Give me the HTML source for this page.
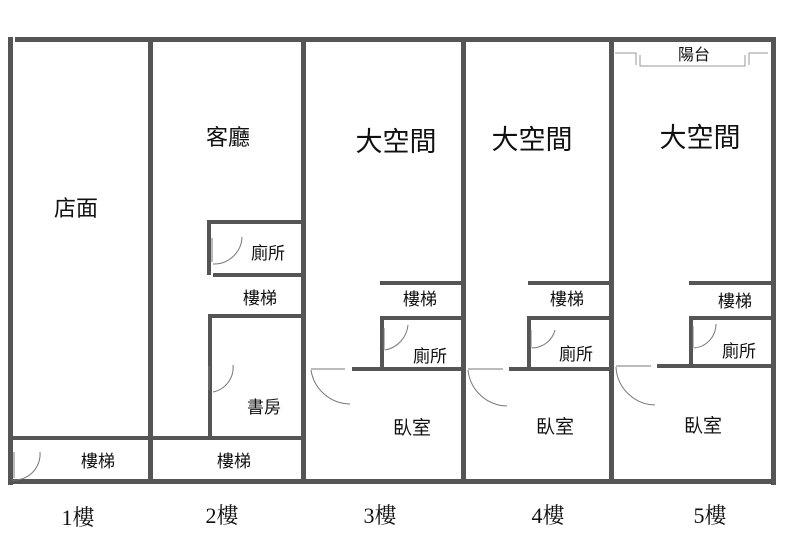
<!DOCTYPE html>
<html><head><meta charset="utf-8"><style>
html,body{margin:0;padding:0;background:#fff;}
svg{display:block}
.t{font-family:"Liberation Sans","Noto Sans CJK TC",sans-serif;fill:#111;text-anchor:middle}
.f{font-family:"Liberation Serif","Noto Serif CJK SC",serif;fill:#111;text-anchor:middle;font-size:22px}
</style></head><body>
<svg width="800" height="533" viewBox="0 0 800 533" xmlns="http://www.w3.org/2000/svg">
<g fill="#555">
<rect x="15" y="37" width="761" height="5"/>
<rect x="8" y="37" width="5" height="448"/>
<rect x="8" y="479" width="768" height="5"/>
<rect x="771" y="37" width="5" height="448"/>
<rect x="148" y="37" width="5" height="447"/>
<rect x="301" y="37" width="5" height="447"/>
<rect x="461" y="37" width="5" height="447"/>
<rect x="609" y="37" width="5" height="444"/>
<rect x="8" y="436" width="298" height="4"/>
<rect x="207" y="220" width="96" height="4"/>
<rect x="207" y="220" width="4" height="55"/>
<rect x="213" y="273" width="90" height="4"/>
<rect x="208" y="314" width="95" height="4"/>
<rect x="208" y="314" width="4" height="124"/>
<rect x="380" y="281" width="82" height="4"/>
<rect x="380" y="316" width="82" height="4"/>
<rect x="380" y="316" width="4" height="53"/>
<rect x="352" y="367" width="110" height="4"/>
<rect x="528" y="281" width="82" height="4"/>
<rect x="527" y="316" width="83" height="4"/>
<rect x="527" y="316" width="4" height="53"/>
<rect x="509" y="367" width="101" height="4"/>
<rect x="689" y="281" width="82" height="4"/>
<rect x="689" y="316" width="82" height="4"/>
<rect x="689" y="316" width="4" height="50"/>
<rect x="657" y="364" width="114" height="4"/>
</g>
<g fill="none" stroke="#777" stroke-width="1">
<path d="M12 480 A26 26 0 0 0 40 452"/><line x1="14" y1="452" x2="14" y2="478"/>
<path d="M213 264 A28 28 0 0 0 242 237"/><line x1="212" y1="238" x2="212" y2="262"/>
<path d="M213 392 A25 25 0 0 0 233 365"/><line x1="209" y1="366" x2="209" y2="390"/>
<path d="M311 370 A40 40 0 0 0 350 404"/><line x1="311" y1="369" x2="345" y2="369"/>
<path d="M385 350 A28 28 0 0 0 408 325"/><line x1="384" y1="328" x2="384" y2="350"/>
<path d="M468 370 A40 40 0 0 0 507 406"/><line x1="468" y1="369" x2="503" y2="369"/>
<path d="M532 348 A24 24 0 0 0 555 330"/><line x1="531" y1="330" x2="531" y2="348"/>
<path d="M616 367 A40 40 0 0 0 655 405"/><line x1="616" y1="366" x2="651" y2="366"/>
<path d="M694 348 A24 24 0 0 0 716 324"/><line x1="693" y1="326" x2="693" y2="348"/>
<path d="M615 53 H636 V65 M640 55 V66 H745 V55 M749 65 V53 H768" stroke="#999"/>
</g>
<text class="t" x="76" y="216" font-size="22">店面</text>
<text class="t" x="228" y="145" font-size="22">客廳</text>
<text class="t" x="268" y="259" font-size="17">廁所</text>
<text class="t" x="260" y="304" font-size="17">樓梯</text>
<text class="t" x="264" y="413" font-size="17">書房</text>
<text class="t" x="98" y="467" font-size="17">樓梯</text>
<text class="t" x="234" y="467" font-size="17">樓梯</text>
<text class="t" x="396" y="151" font-size="27">大空間</text>
<text class="t" x="532" y="149" font-size="27">大空間</text>
<text class="t" x="700" y="147" font-size="27">大空間</text>
<text class="t" x="694" y="60" font-size="16">陽台</text>
<text class="t" x="420" y="305" font-size="17">樓梯</text>
<text class="t" x="567" y="305" font-size="17">樓梯</text>
<text class="t" x="735" y="307" font-size="17">樓梯</text>
<text class="t" x="430" y="362" font-size="17">廁所</text>
<text class="t" x="576" y="360" font-size="17">廁所</text>
<text class="t" x="739" y="357" font-size="17">廁所</text>
<text class="t" x="412" y="434" font-size="19">臥室</text>
<text class="t" x="555" y="433" font-size="19">臥室</text>
<text class="t" x="703" y="432" font-size="19">臥室</text>
<text class="f" x="78" y="525">1樓</text>
<text class="f" x="222" y="523">2樓</text>
<text class="f" x="380" y="523">3樓</text>
<text class="f" x="548" y="523">4樓</text>
<text class="f" x="710" y="523">5樓</text>
</svg>
</body></html>
